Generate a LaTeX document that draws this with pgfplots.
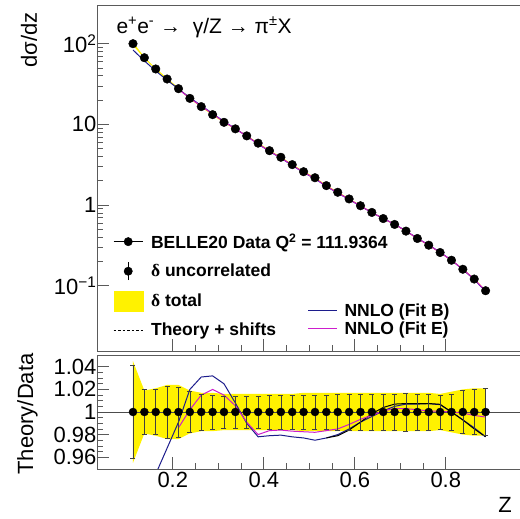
\documentclass[border=0pt]{standalone}
\usepackage{fontspec}
\setmainfont{Liberation Sans}
\newfontfamily\symf{Liberation Serif}
\usepackage{pgfplots}
\pgfplotsset{compat=1.18}
\usepackage{pgfplotstable}
\usepgfplotslibrary{fillbetween}

\definecolor{fitB}{RGB}{28,28,140}
\definecolor{fitE}{RGB}{205,30,205}
\definecolor{frame}{RGB}{90,90,90}

\pgfplotstableread{
z      val     unc    tot    B
0.1125 100     0.041  0.045  0.835
0.1375 67      0.020  0.019  0.915
0.1625 48.6    0.020  0.021  0.945
0.1875 36.5    0.023  0.024  0.968
0.2125 27.7    0.022  0.024  0.991
0.2375 21.0    0.018  0.019  1.020
0.2625 16.6    0.016  0.017  1.031
0.2875 13.2    0.015  0.017  1.032
0.3125 10.6    0.014  0.016  1.025
0.3375 8.8     0.014  0.016  1.008
0.3625 7.2     0.014  0.016  0.990
0.3875 5.85    0.014  0.016  0.978
0.4125 4.72    0.015  0.016  0.979
0.4375 3.91    0.015  0.016  0.9795
0.4625 3.17    0.015  0.016  0.978
0.4875 2.59    0.015  0.017  0.977
0.5125 2.18    0.015  0.017  0.975
0.5375 1.74    0.015  0.017  0.977
0.5625 1.44    0.016  0.017  0.980
0.5875 1.19    0.016  0.017  0.985
0.6125 0.98    0.016  0.017  0.991
0.6375 0.81    0.016  0.017  0.996
0.6625 0.68    0.016  0.017  1.001
0.6875 0.575   0.016  0.017  1.005
0.7125 0.475   0.017  0.017  1.007
0.7375 0.385   0.016  0.017  1.007
0.7625 0.318   0.016  0.017  1.0074
0.7875 0.258   0.015  0.016  1.0065
0.8125 0.207   0.016  0.018  1.000
0.8375 0.160   0.019  0.020  0.993
0.8625 0.121   0.020  0.021  0.986
0.8875 0.0867  0.021  0.021  0.978
}\data

\pgfplotstableread{
z      val     E
0.2125 27.7    0.986
0.2375 21.0    1.002
0.2625 16.6    1.015
0.2875 13.2    1.020
0.3125 10.6    1.015
0.3375 8.8     1.0055
0.3625 7.2     0.991
0.3875 5.85    0.980
0.4125 4.72    0.9835
0.4375 3.91    0.984
0.4625 3.17    0.983
0.4875 2.59    0.9825
0.5125 2.18    0.982
0.5375 1.74    0.9835
0.5625 1.44    0.985
0.5875 1.19    0.989
0.6125 0.98    0.9935
0.6375 0.81    0.997
0.6625 0.68    1.001
0.6875 0.575   1.003
0.7125 0.475   1.003
0.7375 0.385   1.002
0.7625 0.318   1.001
0.7875 0.258   1.0005
0.8125 0.207   1.000
0.8375 0.160   0.999
0.8625 0.121   0.997
0.8875 0.0867  0.9955
}\dataE

\pgfplotstableread{
z      S
0.5375 0.977
0.5625 0.979
0.5875 0.984
0.6125 0.991
0.6375 0.9985
0.6625 1.004
0.6875 1.007
0.7125 1.0075
0.7375 1.0073
0.7625 1.0075
0.7875 1.0068
0.8125 1.000
0.8375 0.993
0.8625 0.985
0.8875 0.978
}\shifts

\pgfplotsset{rootstyle/.style={
  scale only axis, width=424pt, xmin=0.0334, xmax=0.9653,
  tick align=inside, xtick pos=bottom, ytick pos=left,
  major tick length=12pt, minor tick length=6pt,
  axis line style={frame, line width=0.9pt},
  every tick/.style={frame, line width=0.7pt},
  tick label style={font=\fontsize{22}{24}\selectfont},
  /pgf/number format/assume math mode=true,
  xtick={0.2,0.4,0.6,0.8}, minor x tick num=3,
  yticklabel style={xshift=3pt},
}}

\begin{document}
\begin{tikzpicture}
\begin{axis}[rootstyle, name=top, at={(0pt,0pt)}, anchor=south west,
  height=346pt, ymode=log, ymin=0.01552, ymax=301.7,
  xticklabels={},
  ytick={0.1,1,10,100},
  yticklabels={10\textsuperscript{−1},1,10,10\textsuperscript{2}},
  legend style={at={(rel axis cs:0.038,0.346)}, anchor=north west, draw=none, fill=none,
    font=\bfseries\fontsize{17.5}{20}\selectfont, row sep=10pt, inner sep=0pt,
    /tikz/every odd column/.append style={column sep=6pt}},
  legend cell align=left,
]
\addplot[name path=tu, draw=none, forget plot] table[x=z, y expr=\thisrow{val}*(1+\thisrow{tot})] {\data};
\addplot[name path=tl, draw=none, forget plot] table[x=z, y expr=\thisrow{val}*(1-\thisrow{tot})] {\data};
\addplot[yellow, forget plot] fill between[of=tu and tl];
\addplot[fitB, line width=1pt, forget plot] table[x=z, y expr=\thisrow{val}*\thisrow{B}] {\data};
\addplot[fitE, line width=1pt, forget plot] table[x=z, y expr=\thisrow{val}*\thisrow{E}] {\dataE};
\addplot[black, only marks, mark=*, mark size=4.3pt, forget plot] table[x=z, y=val] {\data};
\node[anchor=west, font=\fontsize{21}{24}\selectfont] at (rel axis cs:0.0377,0.936)
  {e\textsuperscript{+}e\textsuperscript{-}~→~ γ/Z → π\textsuperscript{±}X};
\addlegendimage{legend image code/.code={
  \draw[black, line width=0.8pt] (0pt,0pt) -- (29pt,0pt);
  \fill[black] (14.5pt,0pt) circle (4.2pt);}}
\addlegendentry{BELLE20 Data Q\textsuperscript{2} = 111.9364}
\addlegendimage{legend image code/.code={
  \draw[black, line width=0.8pt] (14.5pt,-9pt) -- (14.5pt,9pt);
  \fill[black] (14.5pt,0pt) circle (4.2pt);}}
\addlegendentry{{\symf δ} uncorrelated}
\addlegendimage{legend image code/.code={
  \fill[yellow] (0pt,-10pt) rectangle (29pt,10pt);}}
\addlegendentry{{\symf δ} total}
\addlegendimage{legend image code/.code={
  \draw[black, line width=0.8pt, dash pattern=on 2.5pt off 2pt] (0pt,0pt) -- (29pt,0pt);}}
\addlegendentry{Theory + shifts}
\end{axis}

\begin{axis}[scale only axis, width=424pt, height=346pt, at={(0pt,0pt)}, anchor=south west,
  xmin=0, xmax=1, ymin=0, ymax=1, hide axis,
  legend style={at={(rel axis cs:0.496,0.143)}, anchor=north west, draw=none, fill=none,
    font=\bfseries\fontsize{17.5}{20}\selectfont, row sep=0pt, inner sep=0pt,
    /tikz/every odd column/.append style={column sep=5pt}},
  legend cell align=left,
]
\addlegendimage{legend image code/.code={
  \draw[fitB, line width=1pt] (0pt,0pt) -- (29pt,0pt);}}
\addlegendentry{NNLO (Fit B)}
\addlegendimage{legend image code/.code={
  \draw[fitE, line width=1pt] (0pt,0pt) -- (29pt,0pt);}}
\addlegendentry{NNLO (Fit E)}
\end{axis}

\begin{axis}[rootstyle, name=bot, at={(0pt,-4pt)}, anchor=north west,
  height=114pt, ymin=0.9495, ymax=1.0505,
  ytick={0.96,0.98,1,1.02,1.04}, minor y tick num=3,
  yticklabel style={/pgf/number format/.cd, fixed, precision=2},
]
\addplot[name path=ru, draw=none] table[x=z, y expr=1+\thisrow{tot}] {\data};
\addplot[name path=rl, draw=none] table[x=z, y expr=1-\thisrow{tot}] {\data};
\addplot[yellow] fill between[of=ru and rl];
\addplot[black!70, line width=0.7pt] coordinates {(0.0334,1) (0.9653,1)};
\addplot[fitB, line width=1pt] table[x=z, y=B] {\data};
\addplot[black, line width=1pt] table[x=z, y=S] {\shifts};
\addplot[fitE, line width=1pt] table[x=z, y=E] {\dataE};
\addplot[black, only marks, mark=*, mark size=4pt,
  error bars/.cd, y dir=both, y explicit,
  error bar style={line width=0.6pt, black!75},
  error mark options={rotate=90, mark size=2.5pt, line width=0.6pt, black!75}]
  table[x=z, y expr=1, y error=unc] {\data};
\end{axis}

\node[rotate=90, font=\fontsize{22}{24}\selectfont] at (-68pt,311pt) {dσ/dz};
\node[rotate=90, font=\fontsize{22}{24}\selectfont] at (-69.5pt,-63pt) {Theory/Data};
\node[font=\fontsize{22}{24}\selectfont] at (408pt,-154pt) {Z};

\pgfresetboundingbox
\path (-97pt,-168pt) rectangle (423pt,351pt);
\end{tikzpicture}
\end{document}
